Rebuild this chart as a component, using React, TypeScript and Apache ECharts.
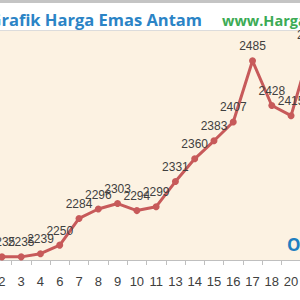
import React, { useEffect, useRef } from "react";
import * as echarts from "echarts";

const categories = ["1", "2", "3", "4", "6", "7", "8", "9", "10", "11", "13", "14", "15", "16", "17", "18", "20", "21"];
const prices = [2235, 2235, 2235, 2239, 2250, 2284, 2296, 2303, 2294, 2299, 2331, 2360, 2383, 2407, 2485, 2428, 2415, 2500];
const titleText = "Grafik Harga Emas Antam";
const siteText = "www.HargaEmas.com";
const cornerText = "O";

export default function App() {
  const ref = useRef<HTMLDivElement>(null);
  useEffect(() => {
    if (!ref.current) return;
    const chart = echarts.init(ref.current, null, { renderer: "svg" });
    chart.setOption({
      animation: false,
      backgroundColor: "#ffffff",
      grid: {
        left: -27,
        right: -20,
        top: 31,
        bottom: 40,
        show: true,
        backgroundColor: "#fcf2e2",
        borderWidth: 0,
        containLabel: false,
        outerBoundsMode: "none",
      },
      xAxis: {
        type: "category",
        data: categories,
        boundaryGap: true,
        axisLine: { lineStyle: { color: "#bfbfbf", width: 1 } },
        axisTick: { show: true, length: 5, lineStyle: { color: "#bfbfbf" } },
        axisLabel: {
          interval: 0,
          margin: 15,
          color: "#404040",
          fontSize: 13,
          fontFamily: "Liberation Sans",
        },
      },
      yAxis: {
        type: "value",
        min: 2231,
        max: 2523,
        show: false,
        splitLine: { show: false },
      },
      series: [
        {
          type: "line",
          data: prices,
          symbol: "circle",
          symbolSize: 7,
          lineStyle: { color: "#c75a5a", width: 3 },
          itemStyle: { color: "#c75a5a" },
          label: {
            show: true,
            position: "top",
            distance: 5,
            color: "#404040",
            fontSize: 12,
            fontFamily: "Liberation Sans",
          },
          z: 3,
        },
      ],
      graphic: [
        { type: "rect", shape: { x: 0, y: 0, width: 300, height: 3 }, style: { fill: "#c4c4c4" } },
        { type: "rect", shape: { x: 0, y: 3, width: 300, height: 27 }, style: { fill: "#ffffff" } },
        { type: "rect", shape: { x: 0, y: 30, width: 300, height: 1 }, style: { fill: "#dcdcdc" } },
        {
          type: "text",
          style: {
            text: titleText,
            x: 202,
            y: 19,
            textAlign: "right",
            textVerticalAlign: "middle",
            font: "bold 16.5px 'Open Sans'",
            fill: "#2b84c6",
          },
        },
        {
          type: "text",
          style: {
            text: siteText,
            x: 222,
            y: 20,
            textAlign: "left",
            textVerticalAlign: "middle",
            font: "bold 14.5px 'Open Sans'",
            fill: "#3cab55",
          },
        },
        {
          type: "text",
          style: {
            text: cornerText,
            x: 287,
            y: 244,
            textAlign: "left",
            textVerticalAlign: "middle",
            font: "bold 17px 'Open Sans'",
            fill: "#1f7fc0",
          },
        },
      ],
    });
    return () => chart.dispose();
  }, []);
  return <div ref={ref} style={{ position: "fixed", left: 0, top: 0, width: 300, height: 300 }} />;
}
